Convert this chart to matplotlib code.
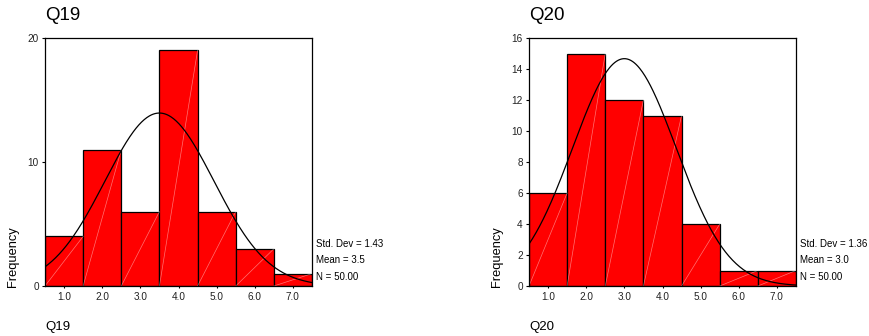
import numpy as np
import matplotlib
matplotlib.use("Agg")
import matplotlib.pyplot as plt

plt.rcParams['font.family'] = ['Liberation Sans', 'DejaVu Sans']

categories = [1.0, 2.0, 3.0, 4.0, 5.0, 6.0, 7.0]
tick_labels = ["1.0", "2.0", "3.0", "4.0", "5.0", "6.0", "7.0"]

q19_counts = [4, 11, 6, 19, 6, 3, 1]
q19_std, q19_mean, q19_n = 1.43, 3.5, 50
q19_yticks = [0, 10, 20]

q20_counts = [6, 15, 12, 11, 4, 1, 1]
q20_std, q20_mean, q20_n = 1.36, 3.0, 50
q20_yticks = [0, 2, 4, 6, 8, 10, 12, 14, 16]

W, H = 869, 336
fig = plt.figure(figsize=(W / 100, H / 100), dpi=100)


def panel(left_px, name, counts, std, mean, n, yticks):
    ax = fig.add_axes([left_px / W, 1 - 286 / H, 267 / W, 248 / H])
    x = np.array(categories)
    counts = np.array(counts)
    ax.bar(x, counts, width=1.0, color='#ff0000', edgecolor='black', linewidth=0.9)
    # faint diagonal sheen across each bar
    for xi, c in zip(x, counts):
        ax.plot([xi - 0.5, xi + 0.5], [0, c], color='white', lw=0.5, alpha=0.45)
    # fitted normal curve scaled to counts
    xs = np.linspace(0.5, 7.5, 300)
    ys = n * np.exp(-0.5 * ((xs - mean) / std) ** 2) / (std * np.sqrt(2 * np.pi))
    ax.plot(xs, ys, color='black', lw=0.9)
    ax.set_xlim(0.5, 7.5)
    ax.set_ylim(yticks[0], yticks[-1])
    ax.set_xticks(categories)
    ax.set_xticklabels(tick_labels, fontsize=7.2, color='#222222')
    ax.set_yticks(yticks)
    ax.set_yticklabels([str(t) for t in yticks], fontsize=7.2, color='#222222')
    ax.tick_params(axis='x', length=1.5, width=0.8, pad=3)
    ax.tick_params(axis='y', length=2.5, width=0.8, pad=2)
    for s in ax.spines.values():
        s.set_linewidth(0.9)
        s.set_color('black')

    fig.text(left_px / W, 1 - 15 / H, name, fontsize=13.5, va='center', ha='left')
    fig.text(left_px / W, 1 - 327 / H, name, fontsize=9.5, va='center', ha='left')
    fig.text((left_px - 32) / W, 1 - 287 / H, "Frequency", fontsize=9.3,
             rotation=90, ha='center', va='bottom')
    rx = (left_px + 271) / W
    fig.text(rx, 1 - 244 / H, f"Std. Dev = {std:.2f}", fontsize=7, va='center')
    fig.text(rx, 1 - 260 / H, f"Mean = {mean:.1f}", fontsize=7, va='center')
    fig.text(rx, 1 - 277 / H, f"N = {n:.2f}", fontsize=7, va='center')


panel(45, "Q19", q19_counts, q19_std, q19_mean, q19_n, q19_yticks)
panel(529, "Q20", q20_counts, q20_std, q20_mean, q20_n, q20_yticks)

fig.savefig("out.png", dpi=100)
